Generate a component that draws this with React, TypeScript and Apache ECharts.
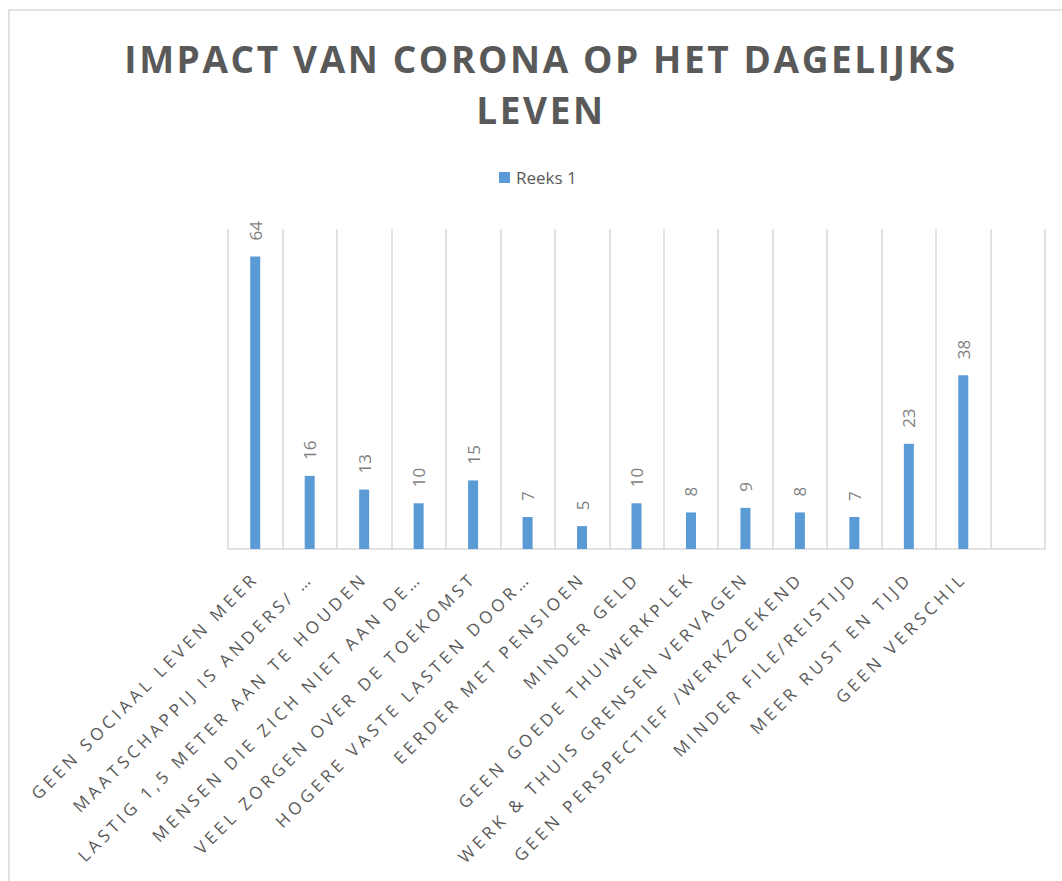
import React, { useEffect, useRef } from "react";
import * as echarts from "echarts";

const titleLines = ["IMPACT VAN CORONA OP HET DAGELIJKS", "LEVEN"];
const seriesName = "Reeks 1";
const categories = [
  "GEEN SOCIAAL LEVEN MEER",
  "MAATSCHAPPIJ IS ANDERS/ …",
  "LASTIG 1,5 METER AAN TE HOUDEN",
  "MENSEN DIE ZICH NIET AAN DE…",
  "VEEL ZORGEN OVER DE TOEKOMST",
  "HOGERE VASTE LASTEN DOOR…",
  "EERDER MET PENSIOEN",
  "MINDER GELD",
  "GEEN GOEDE THUIWERKPLEK",
  "WERK & THUIS GRENSEN VERVAGEN",
  "GEEN PERSPECTIEF /WERKZOEKEND",
  "MINDER FILE/REISTIJD",
  "MEER RUST EN TIJD",
  "GEEN VERSCHIL",
  "",
];
const values: (number | null)[] = [64, 16, 13, 10, 15, 7, 5, 10, 8, 9, 8, 7, 23, 38, null];

export default function App() {
  const ref = useRef<HTMLDivElement>(null);
  useEffect(() => {
    if (!ref.current) return;
    const chart = echarts.init(ref.current, undefined, { renderer: "svg" });
    chart.setOption({
      animation: false,
      backgroundColor: "#ffffff",
      graphic: [
        {
          type: "rect",
          z: -10,
          shape: { x: 9, y: 10, width: 1100, height: 1000 },
          style: { fill: "none", stroke: "#d9d9d9", lineWidth: 1.5 },
        },
        {
          type: "text",
          x: 541,
          y: 84,
          style: {
            text: titleLines.join("\n"),
            align: "center",
            verticalAlign: "middle",
            fontFamily: "Open Sans",
            fontWeight: 700,
            fontSize: 37,
            lineHeight: 51,
            fill: "#595959",
          },
        },
      ],
      legend: {
        left: 499,
        top: 169,
        padding: 0,
        itemWidth: 11,
        itemHeight: 11,
        icon: "rect",
        textStyle: { fontFamily: "Open Sans", fontSize: 17, color: "#595959", padding: [0, 0, 0, 1] },
        data: [seriesName],
      },
      grid: { left: 228, right: 17, top: 229, bottom: 332, containLabel: false },
      xAxis: {
        type: "category",
        data: categories,
        boundaryGap: true,
        axisLine: { show: true, lineStyle: { color: "#d9d9d9", width: 1.5 } },
        axisTick: { show: false },
        splitLine: { show: true, interval: 0, lineStyle: { color: "#d9d9d9", width: 1.5 } },
        axisLabel: {
          interval: 0,
          rotate: 45,
          margin: 26,
          fontFamily: "Open Sans",
          fontSize: 17,
          color: "#595959",
        },
      },
      yAxis: {
        type: "value",
        min: 0,
        max: 70,
        show: false,
        splitLine: { show: false },
      },
      series: [
        {
          name: seriesName,
          type: "bar",
          data: values,
          barWidth: 10,
          itemStyle: { color: "#5b9bd5" },
          label: {
            show: true,
            position: "top",
            rotate: 90,
            align: "left",
            verticalAlign: "middle",
            distance: 16,
            fontFamily: "Open Sans",
            fontSize: 17,
            color: "#7f7f7f",
          },
        },
      ],
    });
    const svg = ref.current.querySelector("svg");
    if (svg) {
      svg.querySelectorAll("text").forEach((t) => {
        const s = (t.textContent || "").trim();
        if (s !== "" && categories.indexOf(s) >= 0) {
          (t as SVGTextElement).style.letterSpacing = "4px";
        } else if (s !== "" && (titleLines.indexOf(s) >= 0 || s.indexOf("IMPACT") === 0)) {
          (t as SVGTextElement).style.letterSpacing = "2.6px";
        }
      });
      svg.querySelectorAll("tspan").forEach((t) => {
        const s = (t.textContent || "").trim();
        if (titleLines.indexOf(s) >= 0) {
          (t as SVGTSpanElement).style.letterSpacing = "2.6px";
        }
      });
    }
    return () => chart.dispose();
  }, []);
  return <div ref={ref} style={{ position: "fixed", left: 0, top: 0, width: 1062, height: 881 }} />;
}
